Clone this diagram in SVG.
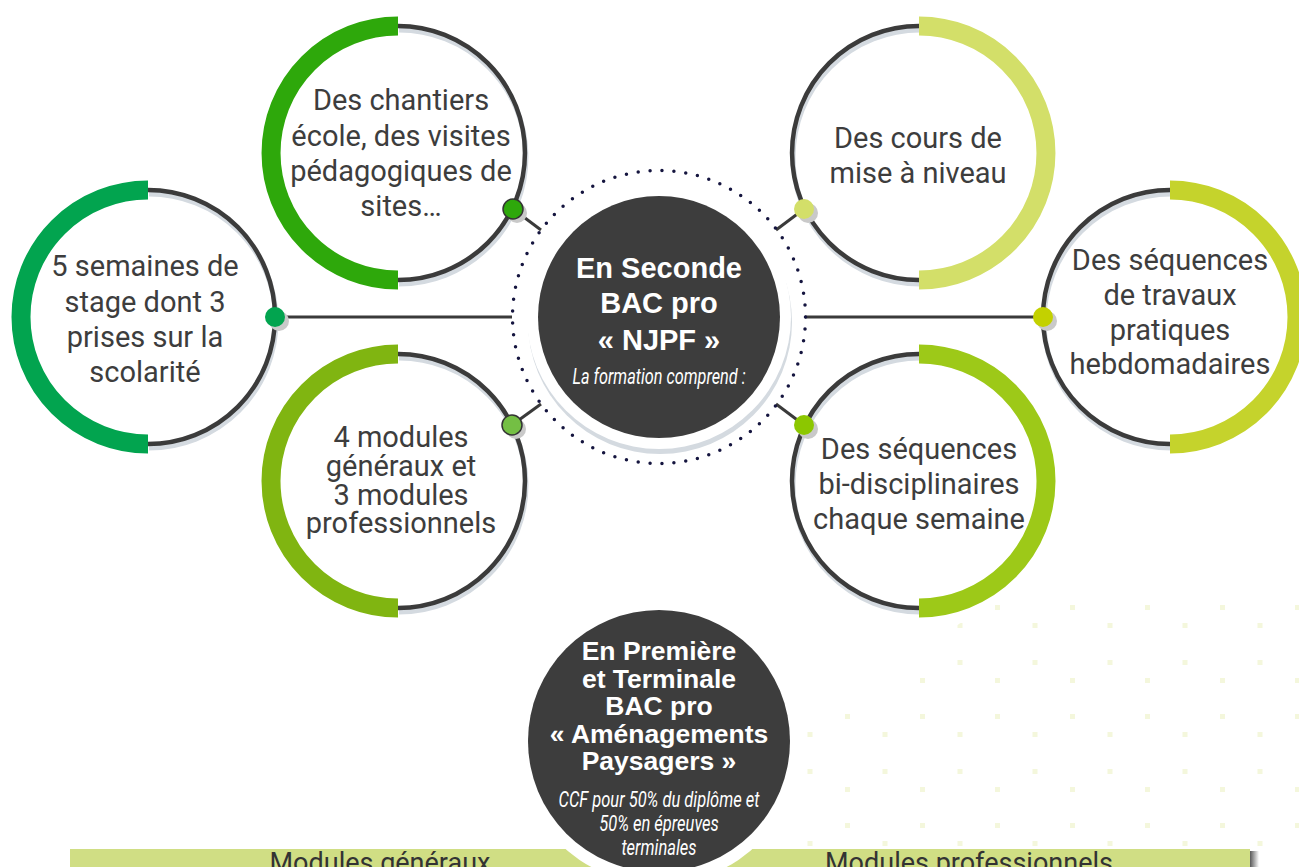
<svg xmlns="http://www.w3.org/2000/svg" width="1299" height="867" viewBox="0 0 1299 867">
<style>
.t{font-family:Roboto,"Liberation Sans",sans-serif;font-size:29px;fill:#3d3d3d;text-anchor:middle}
.dk{fill:none;stroke:#3b3b3b;stroke-width:4.5}
.sh{fill:none;stroke:#d4dae0;stroke-width:5}
.ar{fill:none;stroke-width:19}
.dsh{fill:#c9c9c9}
.ln{stroke:#3a3a3a;stroke-width:3;fill:none}
.ht{font-family:"Liberation Sans",Arial,sans-serif;font-weight:bold;fill:#fff;text-anchor:middle}
.it{font-family:Roboto,"Liberation Sans",sans-serif;font-style:italic;font-size:22px;fill:#fff;text-anchor:middle}
.bt{font-family:Roboto,"Liberation Sans",sans-serif;font-size:27px;fill:#333;text-anchor:middle}
</style>
<defs>
<pattern id="halftone" patternUnits="userSpaceOnUse" x="845" y="605" width="75" height="109">
<rect x="0" y="0" width="5" height="5" fill="#f4f7dc"/>
<rect x="37.5" y="18" width="5" height="5" fill="#f4f7dc"/>
<rect x="37.5" y="55" width="5" height="5" fill="#f4f7dc"/>
<rect x="0" y="73" width="5" height="5" fill="#f4f7dc"/>
</pattern>
<linearGradient id="bshadow" x1="0" x2="1" y1="0" y2="0">
<stop offset="0" stop-color="#3a3a3a" stop-opacity="0.85"/>
<stop offset="1" stop-color="#3a3a3a" stop-opacity="0"/>
</linearGradient>
</defs>
<rect width="1299" height="867" fill="#fff"/>
<polygon points="995,600 1299,600 1299,846 800,846 800,730" fill="url(#halftone)"/>

<g id="connectors">
<line class="ln" x1="275" y1="317" x2="512" y2="317"/>
<line class="ln" x1="805" y1="317" x2="1043" y2="317"/>
<line class="ln" x1="513" y1="209" x2="541" y2="230"/>
<line class="ln" x1="804" y1="209" x2="776" y2="230"/>
<line class="ln" x1="512" y1="425" x2="541" y2="404"/>
<line class="ln" x1="804" y1="425" x2="776" y2="404"/>
</g>

<g id="node-center">
<circle cx="660" cy="322" r="132" fill="#d4dae0"/>
<circle cx="659" cy="317" r="132" fill="#fff"/>
<circle cx="659" cy="317" r="121" fill="#3d3d3d"/>
<circle cx="659" cy="317" r="146.5" fill="none" stroke="#15153f" stroke-width="3.5" stroke-linecap="round" pathLength="77" stroke-dasharray="0 1"/>
<text class="ht" font-size="29" x="659" y="278">En Seconde</text>
<text class="ht" font-size="29" x="659" y="313">BAC pro</text>
<text class="ht" font-size="29" x="659" y="350">« NJPF »</text>
<text class="it" transform="translate(659,384) scale(0.74,1)">La formation comprend :</text>
</g>

<g id="node-chantiers">
<path class="sh" d="M399,30 A127 127 0 0 1 399,284"/>
<path class="dk" d="M398,26 A127 127 0 0 1 398,280"/>
<path class="ar" stroke="#2ea80b" d="M398,26 A127 127 0 0 0 398,280"/>
<circle class="dsh" cx="517" cy="213" r="10"/>
<circle cx="513" cy="209" r="10" fill="#2ea80b" stroke="#333" stroke-width="1.5"/>
<text class="t" x="401" y="110">Des chantiers</text>
<text class="t" x="401" y="146">école, des visites</text>
<text class="t" x="401" y="181">pédagogiques de</text>
<text class="t" x="401" y="216">sites…</text>
</g>

<g id="node-stage">
<path class="sh" d="M149,194 A127 127 0 0 1 149,448"/>
<path class="dk" d="M148,190 A127 127 0 0 1 148,444"/>
<path class="ar" stroke="#02a44f" d="M148,190 A127 127 0 0 0 148,444"/>
<circle class="dsh" cx="279" cy="321" r="10"/>
<circle cx="275" cy="317" r="10" fill="#02a44f"/>
<text class="t" x="145" y="276">5 semaines de</text>
<text class="t" x="145" y="312">stage dont 3</text>
<text class="t" x="145" y="347">prises sur la</text>
<text class="t" x="145" y="382">scolarité</text>
</g>

<g id="node-modules">
<path class="sh" d="M399,358 A127 127 0 0 1 399,612"/>
<path class="dk" d="M398,354 A127 127 0 0 1 398,608"/>
<path class="ar" stroke="#80b511" d="M398,354 A127 127 0 0 0 398,608"/>
<circle class="dsh" cx="516" cy="429" r="10"/>
<circle cx="512" cy="425" r="10" fill="#74bf44" stroke="#333" stroke-width="1.5"/>
<text class="t" font-size="27.5" x="401" y="447">4 modules</text>
<text class="t" font-size="27.5" x="401" y="476">généraux et</text>
<text class="t" font-size="27.5" x="401" y="505">3 modules</text>
<text class="t" font-size="27.5" x="401" y="533">professionnels</text>
</g>

<g id="node-cours">
<path class="sh" d="M920,30 A127 127 0 0 0 920,284"/>
<path class="dk" d="M919,26 A127 127 0 0 0 919,280"/>
<path class="ar" stroke="#d3df69" d="M919,26 A127 127 0 0 1 919,280"/>
<circle class="dsh" cx="808" cy="213" r="10"/>
<circle cx="804" cy="209" r="10" fill="#d3df69"/>
<text class="t" x="918" y="148">Des cours de</text>
<text class="t" x="918" y="183">mise à niveau</text>
</g>

<g id="node-travaux">
<path class="sh" d="M1171,194 A127 127 0 0 0 1171,448"/>
<path class="dk" d="M1170,190 A127 127 0 0 0 1170,444"/>
<path class="ar" stroke="#c5d32c" d="M1170,190 A127 127 0 0 1 1170,444"/>
<circle class="dsh" cx="1047" cy="321" r="10"/>
<circle cx="1043" cy="317" r="10" fill="#c3d100"/>
<text class="t" x="1170" y="270">Des séquences</text>
<text class="t" x="1170" y="305">de travaux</text>
<text class="t" x="1170" y="340">pratiques</text>
<text class="t" x="1170" y="374">hebdomadaires</text>
</g>

<g id="node-bidisciplinaires">
<path class="sh" d="M920,358 A127 127 0 0 0 920,612"/>
<path class="dk" d="M919,354 A127 127 0 0 0 919,608"/>
<path class="ar" stroke="#9dc918" d="M919,354 A127 127 0 0 1 919,608"/>
<circle class="dsh" cx="808" cy="429" r="10"/>
<circle cx="804" cy="425" r="10" fill="#8cc700"/>
<text class="t" x="919" y="459">Des séquences</text>
<text class="t" x="919" y="494">bi-disciplinaires</text>
<text class="t" x="919" y="529">chaque semaine</text>
</g>

<g id="node-generaux">
<rect x="70" y="849" width="590" height="30" fill="#d0de84"/>
<text class="bt" x="380" y="872">Modules généraux</text>
</g>

<g id="node-professionnels">
<rect x="1250" y="851" width="9" height="20" fill="url(#bshadow)"/>
<rect x="660" y="849" width="590" height="30" fill="#d0de84"/>
<text class="bt" x="969" y="872">Modules professionnels</text>
</g>

<g id="node-premiere">
<circle cx="659" cy="741" r="143" fill="#fff"/>
<circle cx="659" cy="741" r="131" fill="#3d3d3d"/>
<text class="ht" font-size="26.5" x="659" y="660">En Première</text>
<text class="ht" font-size="26.5" x="659" y="688">et Terminale</text>
<text class="ht" font-size="26.5" x="659" y="715">BAC pro</text>
<text class="ht" font-size="26.5" x="659" y="743">« Aménagements</text>
<text class="ht" font-size="26.5" x="659" y="770">Paysagers »</text>
<text class="it" transform="translate(659,807) scale(0.75,1)">CCF pour 50% du diplôme et</text>
<text class="it" transform="translate(659,831) scale(0.75,1)">50% en épreuves</text>
<text class="it" transform="translate(659,855) scale(0.75,1)">terminales</text>
</g>
</svg>
